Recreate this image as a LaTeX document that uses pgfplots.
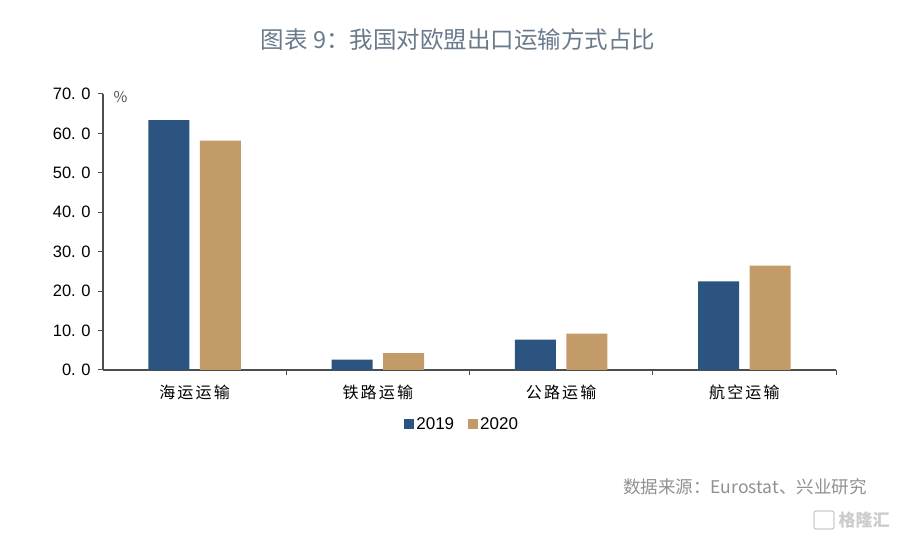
\documentclass[border=0pt]{standalone}
\usepackage{fontspec}
\setmainfont{Noto Sans CJK SC}
\newfontfamily\numfont{Liberation Sans}
\newfontfamily\catfont[LetterSpace=14]{Noto Sans CJK SC}
\usepackage{pgfplots}
\pgfplotsset{compat=1.18}

\definecolor{bar19}{HTML}{2B5580}
\definecolor{bar20}{HTML}{C29B68}
\definecolor{axisgray}{HTML}{4D4D4D}
\definecolor{titlegray}{HTML}{6A7A8B}
\definecolor{srcgray}{HTML}{909090}
\definecolor{wmgray}{HTML}{CCCCCC}

\begin{document}
\begin{tikzpicture}[x=1bp,y=1bp]
\path[use as bounding box] (0,0) rectangle (900,541);
\begin{axis}[
    at={(103bp,171bp)}, anchor=south west,
    scale only axis, width=733bp, height=276bp,
    ybar,
    xmin=-0.5, xmax=3.5, ymin=0, ymax=70,
    axis x line=bottom, axis y line=left,
    axis line style={axisgray, line width=1.2bp, -},
    tick align=outside,
    xtick={0,1,2,3},
    xticklabels={海运运输,铁路运输,公路运输,航空运输},
    major x tick style={draw=none},
    minor xtick={0.5,1.5,2.5,3.5},
    minor x tick style={axisgray, line width=1bp},
    minor tick length=5bp,
    xticklabel style={font=\catfont\fontsize{16bp}{18bp}\selectfont, text=black, yshift=-6bp},
    ytick={0,10,...,70},
    yticklabels={0.\,\,0,10.\,\,0,20.\,\,0,30.\,\,0,40.\,\,0,50.\,\,0,60.\,\,0,70.\,\,0},
    yticklabel style={font=\numfont\fontsize{16.5bp}{18bp}\selectfont, text=black, xshift=-4bp},
    major y tick style={axisgray, line width=1bp},
    major tick length=5bp,
    legend style={at={(0.49,-0.196)}, anchor=center, draw=none,
        legend columns=2, font=\numfont\fontsize{17bp}{19bp}\selectfont,
        /tikz/every even column/.append style={column sep=12bp}},
    legend image code/.code={\fill[#1] (0bp,-5bp) rectangle (10bp,5bp);},
    clip=false,
]
    \addplot[fill=bar19, draw=none, bar width=41bp, bar shift=-25.75bp]
        coordinates {(0,63.4) (1,2.6) (2,7.7) (3,22.5)};
    \addlegendentry{2019}
    \addplot[fill=bar20, draw=none, bar width=41bp, bar shift=25.75bp]
        coordinates {(0,58.2) (1,4.3) (2,9.2) (3,26.5)};
    \addlegendentry{2020}
\end{axis}
\node[anchor=west, text=axisgray, font=\fontsize{15bp}{16bp}\selectfont] at (110,444) {\%};
\node[text=titlegray, font=\fontsize{23.5bp}{27bp}\selectfont] at (458,501) {图表 9：我国对欧盟出口运输方式占比};
\node[anchor=east, text=srcgray, font=\fontsize{17.5bp}{20bp}\selectfont] at (870,54) {数据来源：Eurostat、兴业研究};
\draw[wmgray, line width=1.2bp, rounded corners=2bp] (814,12) rectangle (834,30);
\node[anchor=west, text=wmgray, font=\fontsize{17bp}{19bp}\selectfont\bfseries] at (835,21) {格隆汇};
\end{tikzpicture}
\end{document}
